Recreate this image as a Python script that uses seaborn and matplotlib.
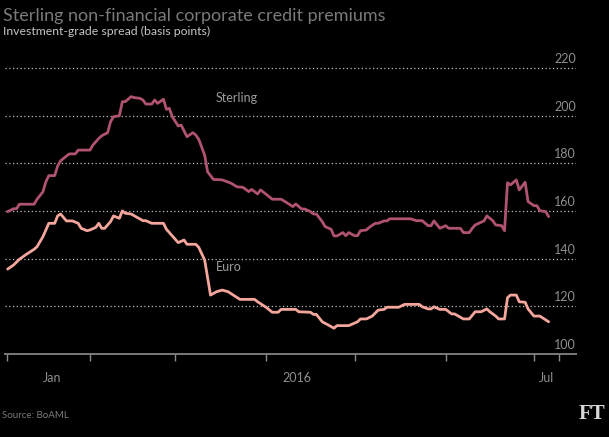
import matplotlib
matplotlib.use("Agg")
import matplotlib.pyplot as plt
import matplotlib.transforms as mtransforms
import pandas as pd
import seaborn as sns

# ---- data (days since 1 Jan 2016, spread in basis points) ----
sterling_day = [3, 5, 6, 7, 12, 13, 15, 16, 17, 19, 20, 21, 23, 24, 26, 27, 31, 32, 34, 35,
                37, 38, 39, 41, 42, 43, 45, 46, 48, 49, 50, 52, 53, 54, 56, 57, 58, 59, 61, 62,
                64, 66, 67, 68, 70, 71, 73, 76, 79, 81, 83, 85, 86, 88, 89, 91, 93, 96, 98, 100,
                101, 103, 104, 106, 107, 108, 110, 111, 113, 114, 115, 117, 118, 119, 121, 122, 123, 125, 126, 128,
                129, 131, 132, 133, 140, 142, 144, 146, 147, 148, 150, 152, 153, 157, 158, 160, 161, 162, 165, 166,
                168, 169, 171, 172, 173, 174, 176, 177, 179, 180, 182, 183, 184, 186, 187]
sterling_bp = [159.7, 160.9, 160.9, 162.8, 162.8, 164.9, 168.0, 172.2, 174.8, 174.8, 178.8, 181.0, 183.0, 183.9, 183.9, 185.5, 185.5, 187.6, 190.4, 191.5,
               192.8, 197.4, 199.5, 199.9, 205.8, 205.8, 207.9, 207.5, 207.2, 206.5, 204.8, 204.8, 206.5, 205.1, 206.8, 202.6, 203.0, 199.5, 195.6, 196.0,
               191.1, 192.8, 191.8, 190.0, 183.4, 176.4, 173.2, 173.0, 171.6, 170.1, 169.9, 168.1, 169.0, 167.1, 168.8, 166.9, 164.9, 164.9, 163.4, 161.8,
               162.9, 160.8, 160.8, 159.7, 158.7, 158.7, 155.5, 153.4, 152.3, 149.5, 149.5, 150.9, 149.6, 150.9, 149.6, 149.6, 151.7, 152.0, 153.1, 154.8,
               154.8, 155.8, 155.8, 156.7, 156.7, 155.9, 155.9, 153.8, 153.8, 155.8, 152.7, 153.8, 152.7, 152.7, 150.9, 150.9, 152.7, 154.1, 155.8, 157.9,
               155.9, 154.1, 153.8, 151.7, 171.8, 170.9, 173.0, 168.8, 172.0, 163.9, 162.2, 162.2, 160.1, 159.7, 157.6]

euro_day = [3, 5, 7, 9, 12, 13, 15, 17, 19, 20, 21, 23, 25, 27, 28, 30, 31, 33, 34, 35,
            36, 38, 39, 41, 42, 43, 45, 47, 49, 50, 52, 56, 57, 61, 63, 64, 67, 68, 70, 72,
            74, 76, 78, 82, 87, 88, 91, 93, 95, 96, 101, 102, 106, 107, 108, 110, 112, 114, 115, 119,
            122, 123, 125, 127, 129, 131, 132, 136, 138, 143, 144, 146, 147, 148, 150, 152, 154, 155, 158, 160,
            162, 164, 166, 167, 169, 170, 172, 173, 174, 176, 177, 179, 180, 182, 184, 187]
euro_bp = [135.6, 137.3, 139.7, 141.5, 143.9, 145.0, 149.2, 154.8, 154.8, 157.9, 158.7, 155.8, 155.8, 154.8, 152.7, 151.7, 152.0, 153.1, 154.8, 152.7,
           152.7, 155.5, 157.9, 156.9, 160.0, 159.0, 158.7, 157.3, 155.9, 155.9, 154.8, 154.8, 152.3, 146.7, 147.8, 146.0, 146.0, 144.7, 139.4, 124.7,
           126.1, 126.8, 126.1, 122.9, 122.9, 121.9, 119.5, 117.5, 117.5, 118.7, 118.7, 117.7, 117.5, 116.6, 116.6, 113.5, 112.2, 110.8, 111.9, 111.9,
           113.5, 114.7, 114.7, 115.9, 118.4, 118.7, 119.6, 119.6, 120.8, 120.8, 119.8, 118.9, 118.9, 119.8, 118.7, 118.7, 116.8, 116.8, 114.7, 114.7,
           117.7, 117.7, 118.9, 117.7, 115.9, 114.7, 114.7, 123.6, 124.7, 124.7, 121.9, 121.7, 118.9, 115.9, 115.9, 113.5]

series_names = ["Sterling", "Euro"]
y_ticks = [100, 120, 140, 160, 180, 200, 220]
x_labels = ["Jan", "2016", "Jul"]
x_label_days = [18.1, 101.4, 186.1]
month_tick_days = [2.8, 31, 60, 91, 121, 152, 182, 190.5]

start = pd.Timestamp("2016-01-01")
def to_date(d):
    return start + pd.to_timedelta(d, unit="D")

df = pd.concat([
    pd.DataFrame({"date": [to_date(d) for d in sterling_day], "spread": sterling_bp, "series": series_names[0]}),
    pd.DataFrame({"date": [to_date(d) for d in euro_day], "spread": euro_bp, "series": series_names[1]}),
], ignore_index=True)

sns.set_style("dark")
plt.rcParams["font.family"] = ["Lato", "DejaVu Sans"]

W, H = 609, 437
fig = plt.figure(figsize=(W / 100, H / 100), dpi=100, facecolor="black")
y_bottom_px, px_per_bp = 354, 2.385
ymax = 226
ax_top_px = y_bottom_px - (ymax - 100) * px_per_bp
ax = fig.add_axes([5 / W, 1 - y_bottom_px / H, 571 / W, (y_bottom_px - ax_top_px) / H])
ax.set_facecolor("black")

palette = {"Sterling": "#b0536f", "Euro": "#f4a69d"}
sns.lineplot(data=df, x="date", y="spread", hue="series", palette=palette,
             linewidth=2.0, legend=False, ax=ax, estimator=None, sort=False)

ax.set_xlim(to_date(2.1), to_date(196.3))
ax.set_ylim(100, ymax)
ax.set_xlabel("")
ax.set_ylabel("")
ax.grid(False)

for s in ["top", "left", "right"]:
    ax.spines[s].set_visible(False)
ax.spines["bottom"].set_color("#7a7a7a")
ax.spines["bottom"].set_linewidth(1.4)

# gridlines
for v in y_ticks[1:]:
    ax.axhline(v, color="#bdbdbd", lw=0.9, ls=(0, (1, 2)), zorder=0)

# y labels above gridlines, right aligned
trans = mtransforms.blended_transform_factory(ax.transAxes, ax.transData)
for v in y_ticks:
    ax.text(1.0, v + 1.2, str(v), transform=trans, ha="right", va="bottom",
            color="#8e8e8e", fontsize=9)
ax.set_yticks([])

# x ticks
ax.set_xticks([to_date(d) for d in month_tick_days], minor=True)
ax.set_xticks([to_date(d) for d in x_label_days])
ax.set_xticklabels(x_labels)
ax.tick_params(axis="x", which="minor", bottom=True, length=5, width=1, color="#8a8a8a", direction="out")
ax.tick_params(axis="x", which="major", bottom=True, length=0, pad=13, labelcolor="#8e8e8e", labelsize=9)

# series labels
ax.text(to_date(73.8), 207.3, "Sterling", color="#9a9a9a", fontsize=9, ha="left", va="center")
ax.text(to_date(73.8), 136.3, "Euro", color="#9a9a9a", fontsize=9, ha="left", va="center")

# titles
fig.text(3 / W, 1 - 21 / H, "Sterling non-financial corporate credit premiums",
         color="#7a7a7a", fontsize=13, ha="left", va="baseline")
fig.text(3 / W, 1 - 35 / H, "Investment-grade spread (basis points)",
         color="#c4c4c4", fontsize=8.8, ha="left", va="baseline")
fig.text(2 / W, 1 - 418 / H, "Source: BoAML", color="#7a7a7a", fontsize=7, ha="left", va="baseline")
fig.text(605 / W, 1 - 419 / H, "FT", color="#d8d8d8", fontsize=15, ha="right", va="baseline",
         family=["Liberation Serif", "DejaVu Serif"], fontweight="bold")

fig.savefig("out.png", dpi=100, facecolor="black")
